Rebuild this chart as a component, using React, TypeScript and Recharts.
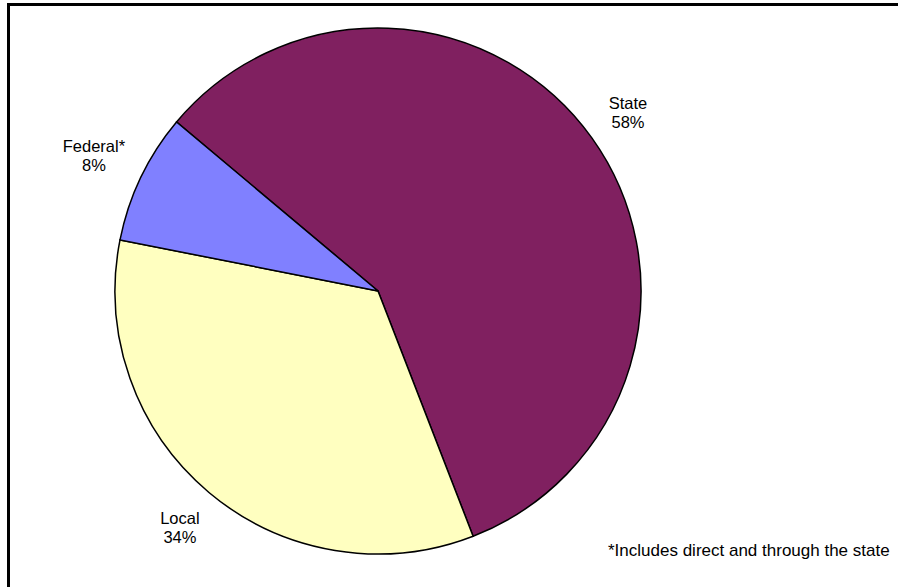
import React from "react";
import { PieChart, Pie, Cell } from "recharts";

const sources = ["State", "Local", "Federal*"];
const shares = [58, 34, 8];
const sliceColors = ["#802060", "#FFFFC0", "#8080FF"];
const footnote = "*Includes direct and through the state";

const data = sources.map((name, i) => ({ name, value: shares[i] }));

const RADIAN = Math.PI / 180;
const FONT = "'Liberation Sans', Arial, sans-serif";

const renderLabel = (props: any) => {
  const { cx, cy, midAngle, outerRadius, name, value } = props;
  const cos = Math.cos(-midAngle * RADIAN);
  const sin = Math.sin(-midAngle * RADIAN);
  // rough half-size of the two-line label box so it sits clear of the rim
  const halfW = Math.max(name.length, 3) * 3.3;
  const halfH = 19;
  const r = outerRadius + 20 + halfW * Math.abs(cos) + halfH * Math.abs(sin);
  const x = cx + r * cos;
  const y = cy + r * sin;
  return (
    <text x={x} y={y} textAnchor="middle" fontFamily={FONT} fontSize={16.5} fill="#000">
      <tspan x={x} dy={-3}>{name}</tspan>
      <tspan x={x} dy={19}>{value}%</tspan>
    </text>
  );
};

export default function App() {
  return (
    <div style={{ position: "absolute", left: 0, top: 0, width: 898, height: 587, background: "#fff", overflow: "hidden" }}>
      <svg width={898} height={587} style={{ position: "absolute", left: 0, top: 0 }}>
        <rect x={7} y={3} width={891} height={3} fill="#000" />
        <rect x={7} y={3} width={3} height={584} fill="#000" />
        <text x={608} y={556} fontFamily={FONT} fontSize={17} fill="#000">{footnote}</text>
      </svg>
      <div style={{ position: "absolute", left: 0, top: 0 }}>
        <PieChart width={898} height={587} margin={{ top: 0, right: 0, bottom: 0, left: 0 }}>
          <Pie
            data={data}
            dataKey="value"
            nameKey="name"
            cx={378}
            cy={291}
            outerRadius={263}
            startAngle={140}
            endAngle={-220}
            stroke="#000"
            strokeWidth={1.5}
            labelLine={false}
            label={renderLabel}
            isAnimationActive={false}
          >
            {data.map((d, i) => (
              <Cell key={d.name} fill={sliceColors[i]} />
            ))}
          </Pie>
        </PieChart>
      </div>
    </div>
  );
}
